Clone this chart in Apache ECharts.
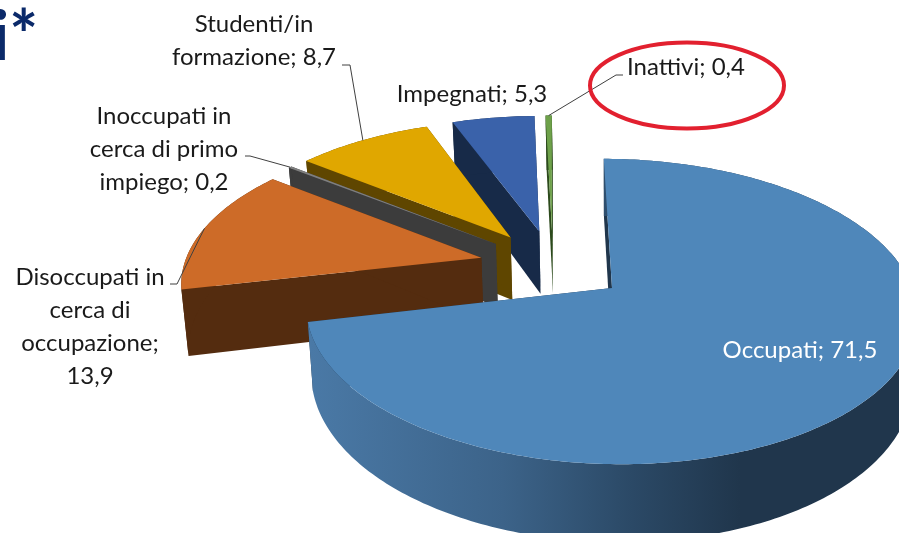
<!DOCTYPE html>
<html>
<head>
<meta charset="utf-8">
<title>Condizione occupazionale</title>
<script src="https://cdn.jsdelivr.net/npm/echarts@6/dist/echarts.min.js"></script>
<style>
    html, body { margin: 0; padding: 0; background: #fff; overflow: hidden; }
    #chart { width: 899px; height: 533px; }
</style>
</head>
<body>
<div id="chart"></div>
<script>
// dati (percentuali)
var categories = ['Occupati', 'Disoccupati in\ncerca di\noccupazione;\n', 'Inoccupati in\ncerca di primo\nimpiego;', 'Studenti/in\nformazione;', 'Impegnati;', 'Inattivi;'];
var values = [71.5, 13.9, 0.2, 8.7, 5.3, 0.4];
var topColors = ['#4f87ba', '#cd6b28', '#7f7f7f', '#e0a700', '#3a62aa', '#6ea14a'];
var wallColors = ['#20364c', '#542c0f', '#3c3c3c', '#5f4600', '#172a48', '#2c4a1c'];

// posizione delle etichette, separata dai dati: [x, y, gomito della linea guida]
var labelPos = [
    [800, 350, null],
    [90, 327, [[170, 284], [177, 284]]],
    [164, 149, [[245, 156], [250, 156]]],
    [254, 41, [[342, 65], [350, 65]]],
    [472, 94, null],
    [686, 67, [[623, 75], [616, 75]]]
];

// proiezione prospettica del disco (come il 3D di Excel)
var X0 = 612, Y0 = 288, A = 302, B = 149, K = 0.154, D = 66, SHEAR = 0.015, TAPER = 0.9835;
var EXPLODE = 0.25, START = -1.8;

var total = 0;
var starts = [];
for (var i = 0; i < values.length; i++) {
    starts.push(total);
    total += values[i];
}

function angleOf(v) {
    return (START + v / total * 360) * Math.PI / 180;
}

function offsetOf(i) {
    var mid = angleOf(starts[i] + values[i] / 2);
    return [EXPLODE * Math.sin(mid), EXPLODE * Math.cos(mid)];
}

// il riferimento e' la punta della prima fetta
var anchor = offsetOf(0);

function project(u, v, low) {
    var w = 1 + K * v;
    var x = A * u / w;
    var y = -B * v / w;
    if (low) {
        x = x * TAPER;
        y = y + D / w;
    }
    return [X0 + x, Y0 + y + SHEAR * x];
}

function rimPoint(i, a, low) {
    var off = offsetOf(i);
    return project(off[0] - anchor[0] + Math.sin(a), off[1] - anchor[1] + Math.cos(a), low);
}

function tipPoint(i, low) {
    var off = offsetOf(i);
    return project(off[0] - anchor[0], off[1] - anchor[1], low);
}

function rimPoints(i, low) {
    var a0 = angleOf(starts[i]);
    var a1 = angleOf(starts[i] + values[i]);
    var n = Math.max(2, Math.ceil((a1 - a0) * 60));
    var pts = [];
    for (var j = 0; j <= n; j++) {
        pts.push(rimPoint(i, a0 + (a1 - a0) * j / n, low));
    }
    return pts;
}

function labelText(i) {
    var value = values[i].toFixed(1).replace('.', ',');
    var name = categories[i];
    return (name.slice(-1) == '\n' || name.slice(-1) == ';' ? name : name + ';') + (name.slice(-1) == '\n' ? '' : ' ') + value;
}

function renderSlice(params, api) {
    var i = api.value(1);
    var rim = rimPoints(i, false);
    var rimLow = rimPoints(i, true);
    var tip = tipPoint(i, false);
    var tipLow = tipPoint(i, true);
    var order = [60, 50, 40, 30, 20, 20][i];
    var wallFill = wallColors[i];
    if (i == 0) {
        wallFill = new echarts.graphic.LinearGradient(310, 0, 740, 0, [
            { offset: 0, color: '#4a79a6' },
            { offset: 0.45, color: '#3c6389' },
            { offset: 0.75, color: '#2b4966' },
            { offset: 1, color: '#20364c' }
        ], true);
    }
    var outer = rim.concat(rimLow.slice().reverse());
    var first = [rim[0], tip, tipLow, rimLow[0]];
    var last = [rim[rim.length - 1], tip, tipLow, rimLow[rimLow.length - 1]];
    return {
        type: 'group',
        children: [
            { type: 'polygon', z2: order, shape: { points: first }, style: { fill: wallColors[i] } },
            { type: 'polygon', z2: order, shape: { points: last }, style: { fill: wallColors[i] } },
            { type: 'polygon', z2: order + 1, shape: { points: outer }, style: { fill: wallFill } },
            { type: 'polygon', z2: order + 2, shape: { points: [tip].concat(rim) }, style: { fill: topColors[i] } }
        ].concat(labelElements(i))
    };
}

function labelElements(i) {
    var pos = labelPos[i];
    var items = [{
        type: 'text',
        z2: 100,
        style: {
            text: labelText(i),
            x: pos[0],
            y: pos[1],
            fill: i == 0 ? '#ffffff' : '#1a1a1a',
            fontFamily: 'Lato',
            fontSize: 24,
            lineHeight: 33,
            align: 'center',
            verticalAlign: 'middle'
        }
    }];
    if (pos[2]) {
        var mid = angleOf(starts[i] + values[i] / 2);
        items.push({
            type: 'polyline',
            z2: 90,
            shape: { points: pos[2].concat([rimPoint(i, mid, false)]) },
            style: { stroke: '#404040', lineWidth: 1, fill: null }
        });
    }
    return items;
}

var chart = echarts.init(document.getElementById('chart'));
var option = {
    animation: false,
    backgroundColor: '#ffffff',
    graphic: [
        {
            type: 'text',
            left: -8,
            top: 4,
            style: { text: 'i*', fill: '#0b2a6a', fontFamily: 'Lato', fontWeight: 'bold', fontSize: 68 }
        },
        {
            type: 'ellipse',
            shape: { cx: 687, cy: 85.5, rx: 97, ry: 43 },
            style: { fill: null, stroke: '#e2202f', lineWidth: 4 },
            z: 10
        }
    ],
    series: [{
        type: 'custom',
        coordinateSystem: 'none',
        renderItem: renderSlice,
        data: values.map(function (v, i) { return [v, i]; })
    }]
};
chart.setOption(option);
</script>
</body>
</html>
